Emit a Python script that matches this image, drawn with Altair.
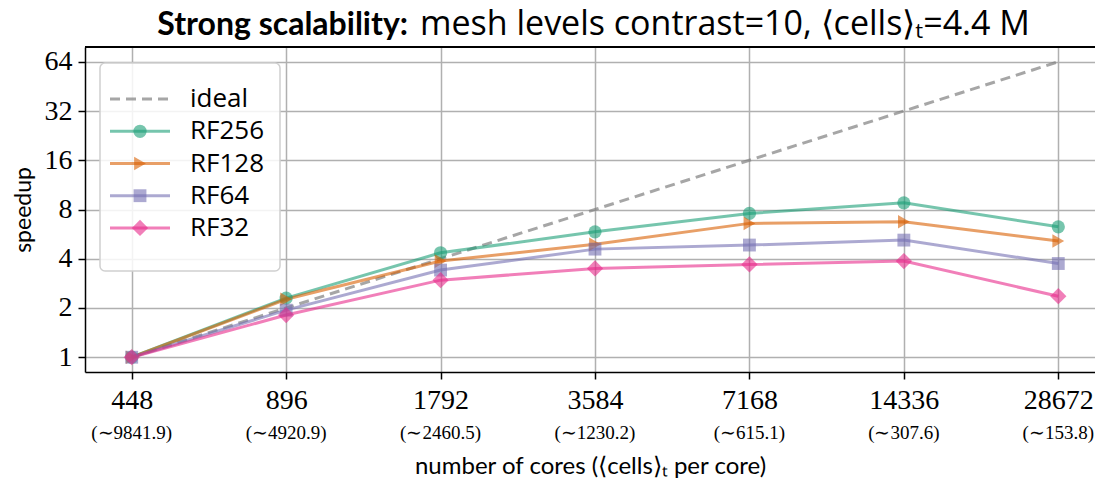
import altair as alt
import pandas as pd

cores = [448, 896, 1792, 3584, 7168, 14336, 28672]
cells_per_core = ["9841.9", "4920.9", "2460.5", "1230.2", "615.1", "307.6", "153.8"]
ideal = [1, 2, 4, 8, 16, 32, 64]
rf256 = [1.0, 2.30, 4.35, 5.84, 7.57, 8.79, 6.27]
rf128 = [1.0, 2.26, 3.87, 4.91, 6.58, 6.73, 5.13]
rf64 = [1.0, 1.94, 3.41, 4.58, 4.85, 5.20, 3.74]
rf32 = [1.0, 1.81, 2.96, 3.49, 3.69, 3.87, 2.36]

series_names = ["RF256", "RF128", "RF64", "RF32"]
series_vals = [rf256, rf128, rf64, rf32]
legend_names = ["ideal"] + series_names
colors = ["#808080", "#1b9e77", "#d95f02", "#7570b3", "#e7298a"]
shapes = ["circle", "triangle-right", "square", "diamond"]
marker_sizes = [175, 185, 165, 265]

rows = []
for name, vals, ms in zip(series_names, series_vals, marker_sizes):
    for c, v in zip(cores, vals):
        rows.append({"series": name, "cores": c, "speedup": v, "ms": ms})
df = pd.DataFrame(rows)
df_ideal = pd.DataFrame({"series": "ideal", "cores": cores, "speedup": ideal})
df_sub = pd.DataFrame({"cores": cores, "sub": ["(∼" + s + ")" for s in cells_per_core]})
df_leg = pd.DataFrame({"series": legend_names})
df_leg_rf = pd.DataFrame({"series": series_names, "ms": marker_sizes})

W, H = 1010, 325
SANS = "Lato"
SANS2 = "Open Sans"
SERIF = "Liberation Serif"

xscale = alt.Scale(type="log", domain=[448 * 2 ** -0.3024, 28672 * 2 ** 0.2377], nice=False)
yscale = alt.Scale(type="log", domain=[2 ** -0.3, 2 ** 6.3], nice=False)
color_scale = alt.Scale(domain=legend_names, range=colors)
shape_scale = alt.Scale(domain=series_names, range=shapes)
size_enc = alt.Size("ms:Q", scale=None, legend=None)

x_enc = alt.X("cores:Q", scale=xscale,
              axis=alt.Axis(values=cores, format="d", grid=True,
                            title="number of cores (⟨cells⟩ₜ per core)",
                            titlePadding=40, titleFont=SANS, titleFontSize=24,
                            titleFontWeight="normal", labelPadding=7))
y_enc = alt.Y("speedup:Q", scale=yscale,
              axis=alt.Axis(values=ideal, format="d", grid=True, title="speedup",
                            titleFont=SANS, titleFontSize=23, titleFontWeight="normal",
                            titlePadding=9, labelPadding=6))

ideal_line = alt.Chart(df_ideal).mark_line(
    color="#808080", opacity=0.7, strokeWidth=3, strokeDash=[10, 6]
).encode(x=x_enc, y=y_enc)

lines = alt.Chart(df).mark_line(strokeWidth=3, opacity=0.6).encode(
    x=alt.X("cores:Q", scale=xscale),
    y=alt.Y("speedup:Q", scale=yscale),
    color=alt.Color("series:N", scale=color_scale, legend=None),
    detail="series:N",
)
points = alt.Chart(df).mark_point(filled=True, opacity=0.6).encode(
    x=alt.X("cores:Q", scale=xscale),
    y=alt.Y("speedup:Q", scale=yscale),
    color=alt.Color("series:N", scale=color_scale, legend=None),
    shape=alt.Shape("series:N", scale=shape_scale, legend=None),
    size=size_enc,
)

sub_labels = alt.Chart(df_sub).mark_text(
    font=SERIF, fontSize=19, baseline="middle", color="black"
).encode(x=alt.X("cores:Q", scale=xscale), y=alt.value(H + 61), text="sub:N")

top_spine = alt.Chart(df_sub).mark_rule(color="black", strokeWidth=1.5).encode(
    x=alt.value(0), x2=alt.value(W), y=alt.value(0))

title_bold = alt.Chart(df_sub.head(1)).mark_text(
    font=SANS, fontSize=32, fontWeight="bold", align="right", baseline="alphabetic", color="black"
).encode(x=alt.value(323), y=alt.value(-12), text=alt.value("Strong scalability:"))
title_reg = alt.Chart(df_sub.head(1)).mark_text(
    font=SANS2, fontSize=34, align="left", baseline="alphabetic", color="black"
).encode(x=alt.value(335), y=alt.value(-12),
         text=alt.value("mesh levels contrast=10, ⟨cells⟩ₜ=4.4 M"))

# legend
leg_y = alt.Y("series:N", scale=alt.Scale(domain=legend_names, range=[36, 197], padding=0), axis=None)
leg_box = alt.Chart(df_sub.head(1)).mark_rect(
    fill="white", fillOpacity=0.85, stroke="#d0d0d0", strokeWidth=1.5, cornerRadius=5
).encode(x=alt.value(15), x2=alt.value(195), y=alt.value(16), y2=alt.value(224))
leg_ideal = alt.Chart(df_leg.head(1)).mark_rule(
    color="#808080", opacity=0.7, strokeWidth=3, strokeDash=[10, 6]
).encode(x=alt.value(25), x2=alt.value(85), y=leg_y)
leg_lines = alt.Chart(df_leg_rf).mark_rule(strokeWidth=3, opacity=0.6).encode(
    x=alt.value(25), x2=alt.value(85), y=leg_y,
    color=alt.Color("series:N", scale=color_scale, legend=None))
leg_pts = alt.Chart(df_leg_rf).mark_point(filled=True, opacity=0.6).encode(
    x=alt.value(55), y=leg_y,
    color=alt.Color("series:N", scale=color_scale, legend=None),
    shape=alt.Shape("series:N", scale=shape_scale, legend=None),
    size=size_enc)
leg_text = alt.Chart(df_leg).mark_text(
    font=SANS2, fontSize=26, align="left", baseline="middle", color="black"
).encode(x=alt.value(105), y=leg_y, text="series:N")

main = alt.layer(ideal_line, lines, points, sub_labels, top_spine)
legend = alt.layer(leg_box, leg_ideal, leg_lines, leg_pts, leg_text)

chart = alt.layer(main, legend, title_bold, title_reg).resolve_scale(y="independent").properties(
    width=W, height=H,
    autosize=alt.AutoSizeParams(type="none"),
    padding={"left": 77, "top": 39, "right": 0, "bottom": 106},
).configure_view(stroke=None).configure_axis(
    labelFont=SERIF, labelFontSize=28, labelColor="black",
    domainColor="black", domainWidth=1.5,
    tickColor="black", tickWidth=1.5, tickSize=7,
    gridColor="#b0b0b0", gridWidth=1.5, titleColor="black",
)

chart.save("out.html", embed_options={"renderer": "svg", "actions": False})
